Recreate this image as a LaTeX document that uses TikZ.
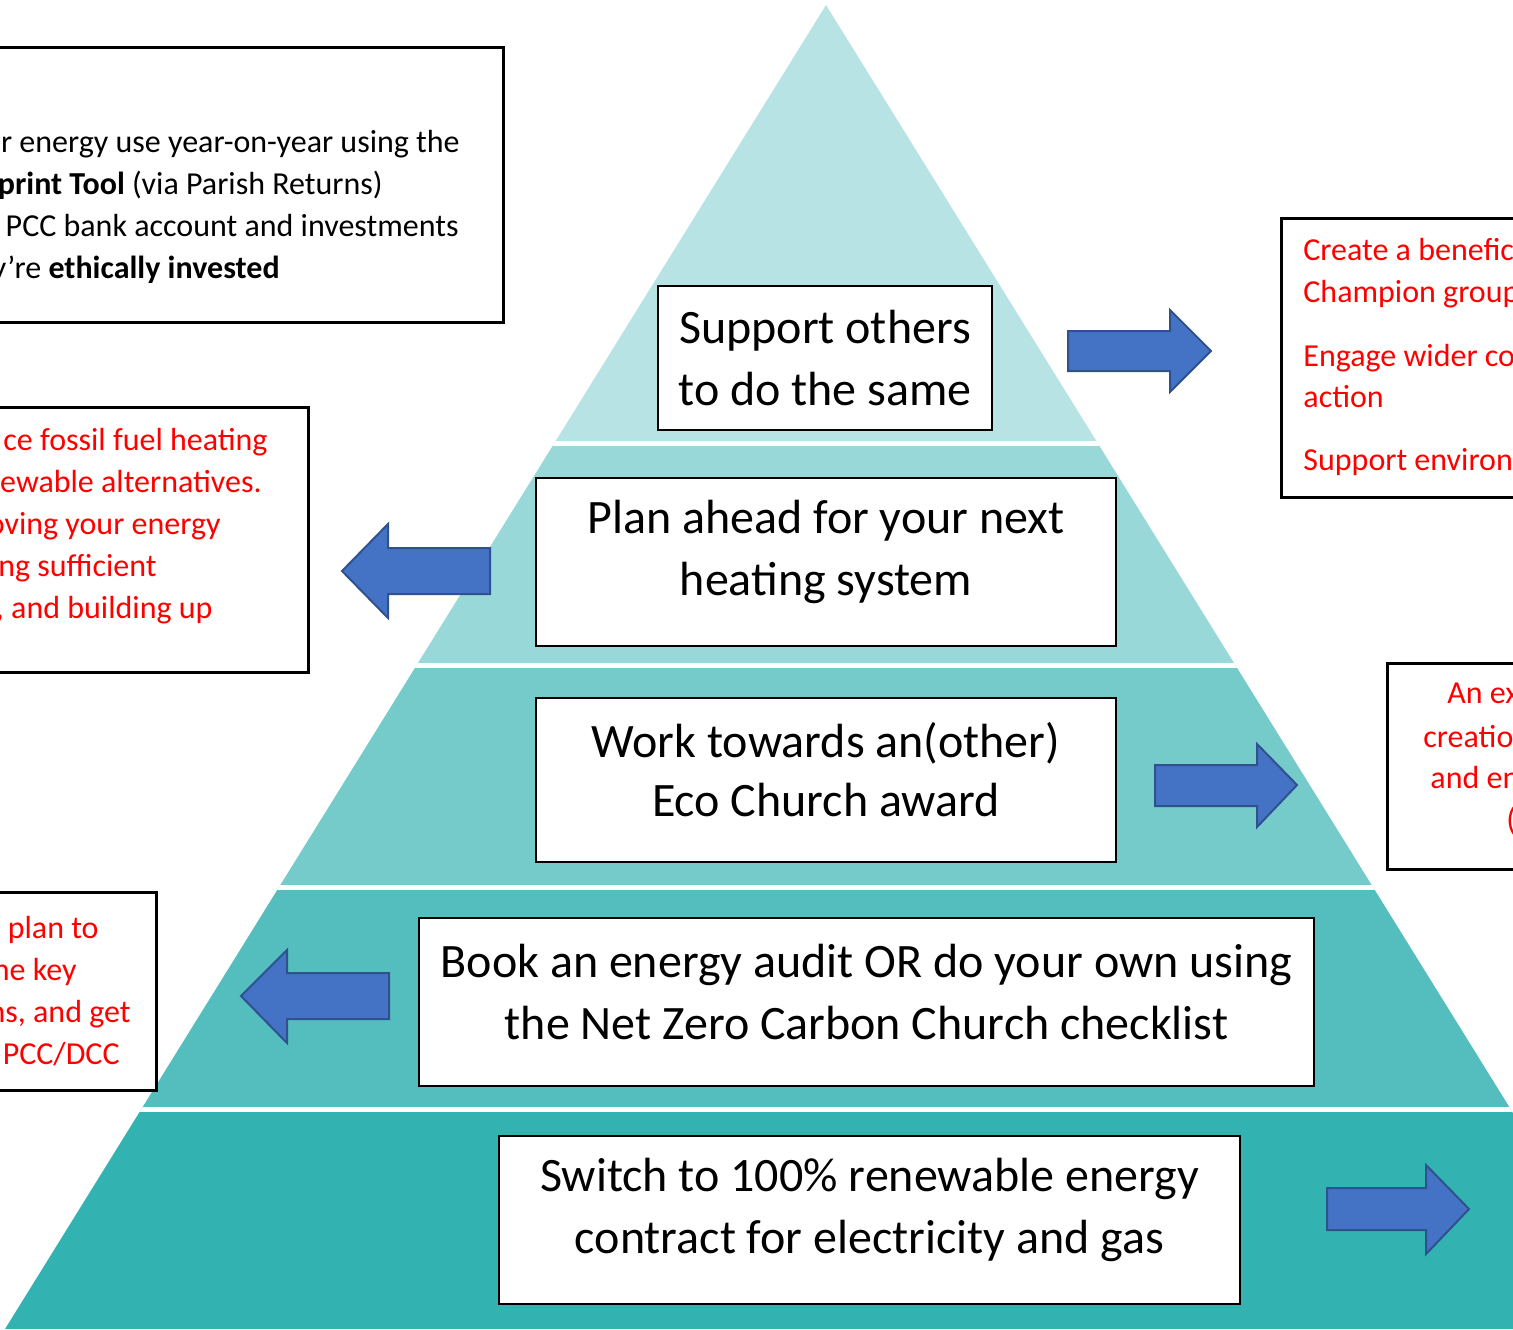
\documentclass[tikz,border=0pt]{standalone}
\usepackage{fontspec}
\setmainfont{Carlito}
\definecolor{tierA}{HTML}{B7E3E4}
\definecolor{tierB}{HTML}{98D8D8}
\definecolor{tierC}{HTML}{75CACA}
\definecolor{tierD}{HTML}{54BEBE}
\definecolor{tierE}{HTML}{33B2B2}
\definecolor{arrowBlue}{HTML}{4472C4}
\definecolor{arrowEdge}{HTML}{2F528F}
\definecolor{noteRed}{HTML}{FF0000}
\tikzset{
  tierbox/.style={draw=black, line width=1pt, fill=white, inner sep=0pt},
  tiertext/.style={align=center, inner sep=0pt, font=\fontsize{24}{31}\selectfont},
  sidebox/.style={draw=black, line width=1.5pt, fill=white},
  note/.style={font=\fontsize{16}{21}\selectfont, inner sep=0pt},
  rednote/.style={note, text=noteRed},
  blockarrow/.style={fill=arrowBlue, draw=arrowEdge, line width=1pt, line join=miter},
  gap/.style={white, line width=2.5pt}
}
\begin{document}
\begin{tikzpicture}[x=0.5pt,y=-0.5pt]
\useasboundingbox (0,0) rectangle (1513,1329);
\clip (0,0) rectangle (1513,1329);
% pyramid bands
\begin{scope}
\clip (826,5) -- (5,1329) -- (1647,1329) -- cycle;
\fill[tierA] (0,0) rectangle (1513,443);
\fill[tierB] (0,443) rectangle (1513,665);
\fill[tierC] (0,665) rectangle (1513,887);
\fill[tierD] (0,887) rectangle (1513,1109);
\fill[tierE] (0,1109) rectangle (1513,1329);
\foreach \y in {443,665,887,1109}
  \draw[gap] (0,\y) -- (1513,\y);
\end{scope}
% steps
\node[tierbox, minimum width=167pt, minimum height=72pt] (tier1) at (825,358) {};
\node[tiertext] (tier1t) at (tier1.center) {Support others\\to do the same};
\node[tierbox, minimum width=290pt, minimum height=84pt] (tier2) at (826,562) {};
\node[tiertext, yshift=5pt] (tier2t) at (tier2.center) {Plan ahead for your next\\heating system};
\node[tierbox, minimum width=290pt, minimum height=82pt] (tier3) at (826,780) {};
\node[tiertext, yshift=5pt, font=\fontsize{24}{29.5}\selectfont] (tier3t) at (tier3.center) {Work towards an(other)\\Eco Church award};
\node[tierbox, minimum width=447.5pt, minimum height=84pt] (tier4) at (866.5,1002) {};
\node[tiertext, yshift=5pt] (tier4t) at (tier4.center) {Book an energy audit OR do your own using\\the Net Zero Carbon Church checklist};
\node[tierbox, minimum width=370.5pt, minimum height=84pt] (tier5) at (869.5,1220) {};
\node[tiertext, yshift=5pt] (tier5t) at (tier5.center) {Switch to 100\% renewable energy\\contract for electricity and gas};
% side boxes
\draw[sidebox] (-5,47) rectangle (503,322);
\node[note, anchor=base east] (monA) at (460,152) {r energy use year-on-year using the};
\node[note, anchor=base east] (monB) at (383,194) {\textbf{print Tool} (via Parish Returns)};
\node[note, anchor=base east] (monC) at (459,236) {PCC bank account and investments};
\node[note, anchor=base east] (monD) at (280,278) {y’re \textbf{ethically invested}};
\draw[sidebox] (-5,407) rectangle (308,672);
\node[rednote, anchor=base east] (heatA) at (268,450) {ce fossil fuel heating};
\node[rednote, anchor=base east] (heatB) at (262,492) {ewable alternatives.};
\node[rednote, anchor=base east] (heatC) at (221,534) {oving your energy};
\node[rednote, anchor=base east] (heatD) at (157,576) {ng sufficient};
\node[rednote, anchor=base east] (heatE) at (213,618) {, and building up};
\draw[sidebox] (1281,218) rectangle (1520,497);
\node[rednote, anchor=base west] (othA) at (1303,260) {Create a benefic};
\node[rednote, anchor=base west] (othB) at (1303,302) {Champion group};
\node[rednote, anchor=base west] (othC) at (1303,366) {Engage wider co};
\node[rednote, anchor=base west] (othD) at (1303,407) {action};
\node[rednote, anchor=base west] (othE) at (1303,470) {Support environ};
\draw[sidebox] (1387,663) rectangle (1520,869);
\node[rednote, anchor=base west] (ecoA) at (1447,703) {An ex};
\node[rednote, anchor=base west] (ecoB) at (1423,747) {creatio};
\node[rednote, anchor=base west] (ecoC) at (1430,788) {and en};
\node[rednote, anchor=base west] (ecoD) at (1506,830) {(};
\draw[sidebox] (-5,892) rectangle (156,1090);
\node[rednote, anchor=base east] (audA) at (99,938) {r plan to};
\node[rednote, anchor=base east] (audB) at (77,980) {ne key};
\node[rednote, anchor=base east] (audC) at (131,1022) {ns, and get};
\node[rednote, anchor=base east] (audD) at (120,1064) {PCC/DCC};
% arrows
\draw[blockarrow] (1068,331) -- (1170,331) -- (1170,310) -- (1211,351) -- (1170,392) -- (1170,371) -- (1068,371) -- cycle;
\draw[blockarrow] (490,548) -- (388,548) -- (388,524) -- (342,571) -- (388,618) -- (388,594) -- (490,594) -- cycle;
\draw[blockarrow] (1155,765) -- (1257,765) -- (1257,744) -- (1297,785) -- (1257,827) -- (1257,806) -- (1155,806) -- cycle;
\draw[blockarrow] (389,973) -- (287,973) -- (287,950) -- (241,996) -- (287,1043) -- (287,1019) -- (389,1019) -- cycle;
\draw[blockarrow] (1327,1188) -- (1426,1188) -- (1426,1165) -- (1469,1209) -- (1426,1254) -- (1426,1230) -- (1327,1230) -- cycle;
\end{tikzpicture}
\end{document}
